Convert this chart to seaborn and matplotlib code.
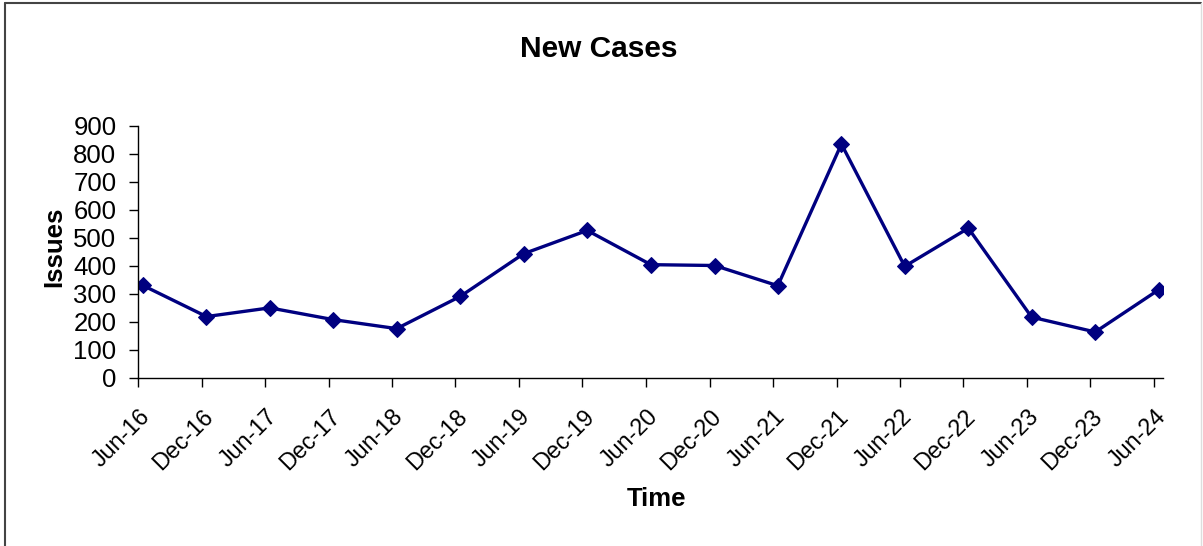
import numpy as np
import pandas as pd
import matplotlib
matplotlib.use("Agg")
import matplotlib.pyplot as plt
from matplotlib.lines import Line2D
import seaborn as sns

# données (cas par semestre)
periods = ["2016-06", "2016-12", "2017-06", "2017-12", "2018-06", "2018-12",
           "2019-06", "2019-12", "2020-06", "2020-12", "2021-06", "2021-12",
           "2022-06", "2022-12", "2023-06", "2023-12", "2024-06"]
tick_labels = ["Jun-16", "Dec-16", "Jun-17", "Dec-17", "Jun-18", "Dec-18",
               "Jun-19", "Dec-19", "Jun-20", "Dec-20", "Jun-21", "Dec-21",
               "Jun-22", "Dec-22", "Jun-23", "Dec-23", "Jun-24"]
new_cases = [330, 219, 250, 208, 176, 291, 443, 526, 404, 401, 329,
             834, 398, 534, 217, 164, 315]
y_ticks = [0, 100, 200, 300, 400, 500, 600, 700, 800, 900]

sns.set_style("white")
plt.rcParams["font.family"] = ["Liberation Sans", "DejaVu Sans"]
plt.rcParams["text.color"] = "black"
plt.rcParams["axes.labelcolor"] = "black"
plt.rcParams["xtick.color"] = "black"
plt.rcParams["ytick.color"] = "black"

month_starts = pd.to_datetime(periods)
# les points tombent au milieu du mois
df = pd.DataFrame({"date": month_starts + pd.Timedelta(days=14),
                   "cases": new_cases})

fig = plt.figure(figsize=(12.03, 5.46), dpi=100)
ax = fig.add_axes([0.1147, 0.3077, 0.8521, 0.4624])

sns.lineplot(data=df, x="date", y="cases", ax=ax, color="#000080",
             linewidth=2.4, marker="D", markersize=8.5,
             markeredgecolor="#000080")

ax.set_ylim(0, 900)
ax.set_yticks(y_ticks)
ax.set_xlim(month_starts[0], month_starts[-1] + pd.Timedelta(days=26))
ax.set_xticks(month_starts)
ax.set_xticklabels(tick_labels, rotation=45, ha="right", va="top",
                   rotation_mode="anchor")

ax.tick_params(axis="y", labelsize=18.5, left=True, direction="out",
               length=6.5, width=1, pad=9)
ax.tick_params(axis="x", labelsize=16.8, bottom=True, direction="out",
               length=6.5, width=1, pad=13)
for side in ["top", "right"]:
    ax.spines[side].set_visible(False)
for side in ["left", "bottom"]:
    ax.spines[side].set_color("black")
    ax.spines[side].set_linewidth(1)

ax.set_xlabel("Time", fontsize=18.5, fontweight="bold")
ax.set_ylabel("Issues", fontsize=18.5, fontweight="bold")
ax.xaxis.set_label_coords(0.506, -0.43)
ax.yaxis.set_label_coords(-0.07, 0.52)

fig.text(0.498, 1 - 57 / 546, "New Cases", ha="center", va="baseline",
         fontsize=21.5, fontweight="bold")

# cadre du graphique (style Excel)
fig.add_artist(Line2D([5 / 1203, 5 / 1203], [0, 1 - 3 / 546],
                      transform=fig.transFigure, color="#444444", lw=1.5))
fig.add_artist(Line2D([5 / 1203, 1201 / 1203], [1 - 3 / 546, 1 - 3 / 546],
                      transform=fig.transFigure, color="#444444", lw=1.5))
fig.add_artist(Line2D([1201 / 1203, 1201 / 1203], [0, 1 - 3 / 546],
                      transform=fig.transFigure, color="#dddddd", lw=1))

fig.savefig("out.png", dpi=100)
